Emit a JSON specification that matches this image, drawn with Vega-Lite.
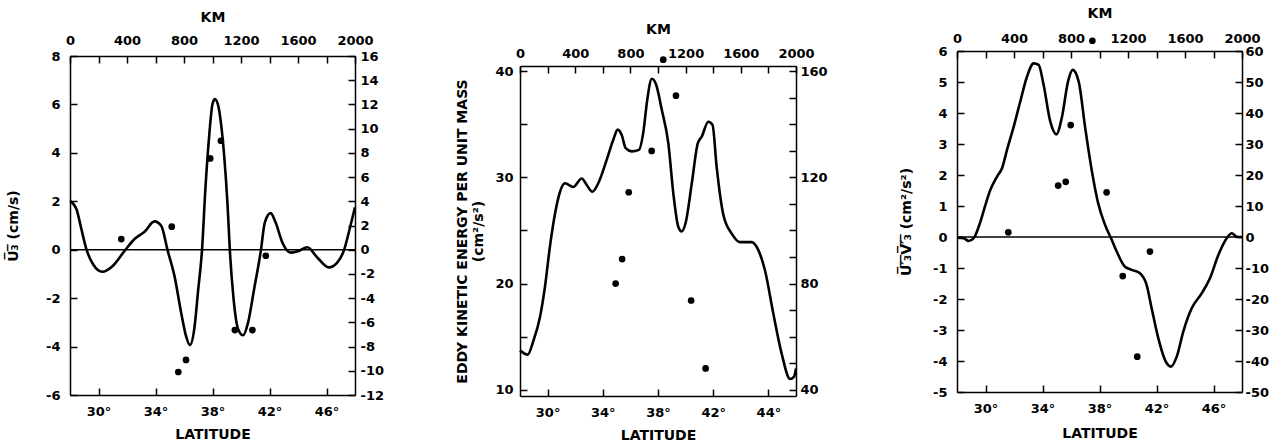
{
  "$schema": "https://vega.github.io/schema/vega-lite/v6.json",
  "background": "white",
  "padding": {"left": 6, "top": 5, "right": 0, "bottom": 0},
  "config": {
    "font": "DejaVu Sans",
    "view": {"stroke": null},
    "axis": {
      "grid": false, "domainColor": "black", "domainWidth": 1.5, "tickColor": "black", "tickWidth": 1.5, "tickSize": -7,
      "labelColor": "black", "labelFont": "DejaVu Sans", "labelFontWeight": "bold", "labelFontSize": 13,
      "labelFlush": false, "labelOverlap": false, "labelBound": false,
      "titleColor": "black", "titleFont": "DejaVu Sans", "titleFontWeight": "bold", "titleFontSize": 14
    }
  },
  "datasets": {
    "c1": [
      {"lat": 28.0, "v": 2.02}, {"lat": 28.45, "v": 1.68}, {"lat": 28.8, "v": 0.85}, {"lat": 29.15, "v": 0.02},
      {"lat": 29.62, "v": -0.6}, {"lat": 30.27, "v": -0.91}, {"lat": 31.0, "v": -0.67}, {"lat": 31.83, "v": -0.05},
      {"lat": 32.53, "v": 0.44}, {"lat": 33.23, "v": 0.74}, {"lat": 33.93, "v": 1.17}, {"lat": 34.4, "v": 0.99},
      {"lat": 34.86, "v": -0.05}, {"lat": 35.33, "v": -1.08}, {"lat": 35.8, "v": -2.6}, {"lat": 36.14, "v": -3.56},
      {"lat": 36.42, "v": -3.94}, {"lat": 36.72, "v": -3.28}, {"lat": 37.0, "v": -1.63}, {"lat": 37.26, "v": -0.05},
      {"lat": 37.5, "v": 2.5}, {"lat": 37.73, "v": 4.43}, {"lat": 38.0, "v": 6.02}, {"lat": 38.17, "v": 6.22},
      {"lat": 38.4, "v": 5.95}, {"lat": 38.6, "v": 5.2}, {"lat": 38.82, "v": 3.88}, {"lat": 39.06, "v": 1.81},
      {"lat": 39.22, "v": -0.05}, {"lat": 39.48, "v": -2.04}, {"lat": 39.8, "v": -3.28}, {"lat": 40.15, "v": -3.53},
      {"lat": 40.5, "v": -3.0}, {"lat": 40.92, "v": -1.63}, {"lat": 41.39, "v": -0.05}, {"lat": 41.67, "v": 1.12},
      {"lat": 42.08, "v": 1.51}, {"lat": 42.43, "v": 1.12}, {"lat": 42.9, "v": 0.3}, {"lat": 43.48, "v": -0.12},
      {"lat": 44.06, "v": -0.05}, {"lat": 44.65, "v": 0.1}, {"lat": 45.35, "v": -0.32}, {"lat": 46.16, "v": -0.73},
      {"lat": 46.75, "v": -0.53}, {"lat": 47.21, "v": -0.05}, {"lat": 47.68, "v": 0.99}, {"lat": 48.0, "v": 1.75}
    ],
    "p1": [
      {"lat": 31.6, "v": 0.44}, {"lat": 35.14, "v": 0.95}, {"lat": 35.6, "v": -5.05}, {"lat": 36.14, "v": -4.55},
      {"lat": 37.84, "v": 3.77}, {"lat": 38.59, "v": 4.5}, {"lat": 39.57, "v": -3.32}, {"lat": 40.8, "v": -3.32},
      {"lat": 41.74, "v": -0.25}
    ],
    "c2": [
      {"lat": 28.0, "v": 13.7}, {"lat": 28.56, "v": 13.3}, {"lat": 28.97, "v": 14.6}, {"lat": 29.45, "v": 16.85},
      {"lat": 29.81, "v": 19.7}, {"lat": 30.17, "v": 23.5}, {"lat": 30.54, "v": 26.6}, {"lat": 30.9, "v": 28.65},
      {"lat": 31.26, "v": 29.45}, {"lat": 31.86, "v": 29.1}, {"lat": 32.47, "v": 29.9}, {"lat": 32.83, "v": 29.3},
      {"lat": 33.24, "v": 28.65}, {"lat": 33.67, "v": 29.45}, {"lat": 34.28, "v": 31.65}, {"lat": 34.76, "v": 33.55},
      {"lat": 35.08, "v": 34.5}, {"lat": 35.37, "v": 34.0}, {"lat": 35.66, "v": 32.75}, {"lat": 36.09, "v": 32.45},
      {"lat": 36.62, "v": 32.6}, {"lat": 36.93, "v": 34.2}, {"lat": 37.22, "v": 37.3}, {"lat": 37.55, "v": 39.3},
      {"lat": 37.85, "v": 38.8}, {"lat": 38.27, "v": 36.4}, {"lat": 38.75, "v": 33.2}, {"lat": 39.11, "v": 28.5},
      {"lat": 39.47, "v": 25.35}, {"lat": 39.72, "v": 24.9}, {"lat": 40.0, "v": 25.7}, {"lat": 40.45, "v": 29.45},
      {"lat": 40.88, "v": 33.2}, {"lat": 41.17, "v": 33.85}, {"lat": 41.65, "v": 35.25}, {"lat": 41.95, "v": 34.95},
      {"lat": 42.25, "v": 31.0}, {"lat": 42.74, "v": 26.45}, {"lat": 43.34, "v": 24.7}, {"lat": 43.94, "v": 23.9},
      {"lat": 44.78, "v": 23.9}, {"lat": 45.27, "v": 23.15}, {"lat": 45.75, "v": 21.25}, {"lat": 46.36, "v": 17.15},
      {"lat": 46.96, "v": 13.4}, {"lat": 47.57, "v": 11.0}, {"lat": 47.85, "v": 11.2}, {"lat": 48.0, "v": 12.0}
    ],
    "p2": [
      {"lat": 34.93, "v": 20.0}, {"lat": 35.4, "v": 22.3}, {"lat": 35.88, "v": 28.6}, {"lat": 37.54, "v": 32.5},
      {"lat": 38.38, "v": 41.1}, {"lat": 39.3, "v": 37.7}, {"lat": 40.4, "v": 18.4}, {"lat": 41.45, "v": 12.0}
    ],
    "c3": [
      {"lat": 28.0, "v": -0.02}, {"lat": 28.47, "v": -0.04}, {"lat": 28.82, "v": -0.13}, {"lat": 29.17, "v": -0.04},
      {"lat": 29.64, "v": 0.49}, {"lat": 29.99, "v": 1.03}, {"lat": 30.34, "v": 1.52}, {"lat": 30.81, "v": 1.95},
      {"lat": 31.16, "v": 2.22}, {"lat": 31.51, "v": 2.81}, {"lat": 31.98, "v": 3.56}, {"lat": 32.44, "v": 4.37},
      {"lat": 32.91, "v": 5.17}, {"lat": 33.38, "v": 5.6}, {"lat": 33.73, "v": 5.55}, {"lat": 34.08, "v": 4.9},
      {"lat": 34.55, "v": 3.72}, {"lat": 34.97, "v": 3.31}, {"lat": 35.37, "v": 3.88}, {"lat": 35.79, "v": 5.01},
      {"lat": 36.12, "v": 5.39}, {"lat": 36.54, "v": 5.01}, {"lat": 37.0, "v": 3.51}, {"lat": 37.47, "v": 2.11},
      {"lat": 37.9, "v": 1.1}, {"lat": 38.39, "v": 0.39}, {"lat": 38.81, "v": -0.04}, {"lat": 39.21, "v": -0.47},
      {"lat": 39.79, "v": -0.96}, {"lat": 40.26, "v": -1.06}, {"lat": 40.84, "v": -1.17}, {"lat": 41.31, "v": -1.55},
      {"lat": 41.66, "v": -2.3}, {"lat": 42.13, "v": -3.27}, {"lat": 42.6, "v": -3.97}, {"lat": 43.02, "v": -4.18},
      {"lat": 43.42, "v": -3.86}, {"lat": 43.88, "v": -3.05}, {"lat": 44.47, "v": -2.3}, {"lat": 45.17, "v": -1.82},
      {"lat": 45.75, "v": -1.33}, {"lat": 46.34, "v": -0.58}, {"lat": 46.93, "v": -0.04}, {"lat": 47.28, "v": 0.12},
      {"lat": 47.63, "v": 0.01}, {"lat": 48.0, "v": 0.0}
    ],
    "p3": [
      {"lat": 31.6, "v": 0.15}, {"lat": 35.1, "v": 1.66}, {"lat": 35.63, "v": 1.78}, {"lat": 35.98, "v": 3.61},
      {"lat": 37.5, "v": 6.33}, {"lat": 38.5, "v": 1.44}, {"lat": 39.63, "v": -1.26}, {"lat": 40.65, "v": -3.86},
      {"lat": 41.54, "v": -0.47}
    ],
    "ref": [{"zero": 0}],
    "blank": [{"k": 1}],
    "a1": [{"km": 0, "r": -12}, {"km": 2000, "r": 16}],
    "a2": [{"km": 0, "r": 40}, {"km": 2000, "r": 160}],
    "a3": [{"km": 0, "r": -50}, {"km": 2000, "r": 60}]
  },
  "concat": [
    {
      "vconcat": [
        {"data": {"name": "blank"}, "mark": {"type": "point", "opacity": 0, "size": 0, "strokeWidth": 0}, "encoding": {}, "width": 10, "height": 5},
        {
          "width": 285, "height": 339,
          "layer": [
            {
              "layer": [
                {
                  "data": {"name": "c1"},
                  "mark": {"type": "line", "interpolate": "monotone", "color": "black", "strokeWidth": 2.6},
                  "encoding": {
                    "x": {"field": "lat", "type": "quantitative", "scale": {"domain": [28, 48], "nice": false, "zero": false},
                      "axis": {"orient": "bottom", "title": "LATITUDE", "values": [30, 32, 34, 36, 38, 40, 42, 44, 46], "labelExpr": "datum.value % 4 == 2 ? datum.value + '°' : ''", "labelOverlap": false, "labelPadding": 17, "titleY": 39, "titleBaseline": "middle"}},
                    "y": {"field": "v", "type": "quantitative", "scale": {"domain": [-6, 8], "nice": false},
                      "axis": {"orient": "left", "title": "U̅₃̅ (cm/s)", "values": [-6, -5, -4, -3, -2, -1, 0, 1, 2, 3, 4, 5, 6, 7, 8], "labelExpr": "datum.value % 2 == 0 ? replace(datum.label, '−', '-') : ''", "labelOverlap": false, "labelPadding": 17, "titleX": -57, "titleBaseline": "middle"}}
                  }
                },
                {
                  "data": {"name": "p1"},
                  "mark": {"type": "circle", "size": 45, "color": "black", "opacity": 1},
                  "encoding": {"x": {"field": "lat", "type": "quantitative"}, "y": {"field": "v", "type": "quantitative"}}
                },
                {
                  "data": {"name": "ref"},
                  "mark": {"type": "rule", "color": "black", "strokeWidth": 1.5},
                  "encoding": {"y": {"field": "zero", "type": "quantitative"}}
                }
              ]
            },
            {
              "data": {"name": "a1"},
              "mark": {"type": "point", "opacity": 0},
              "encoding": {
                "x": {"field": "km", "type": "quantitative", "scale": {"domain": [0, 2000], "nice": false},
                  "axis": {"orient": "top", "title": "KM", "format": "d", "values": [0, 200, 400, 600, 800, 1000, 1200, 1400, 1600, 1800, 2000], "labelExpr": "datum.value % 400 == 0 ? datum.label : ''", "labelOverlap": false, "labelPadding": 16, "titleY": -39, "titleBaseline": "middle"}},
                "y": {"field": "r", "type": "quantitative", "scale": {"domain": [-12, 16], "nice": false},
                  "axis": {"orient": "right", "title": null, "values": [-12, -10, -8, -6, -4, -2, 0, 2, 4, 6, 8, 10, 12, 14, 16], "labelExpr": "replace(datum.label, '−', '-')", "labelOverlap": false, "labelPadding": 12}}
              }
            }
          ],
          "resolve": {"scale": {"x": "independent", "y": "independent"}}
        }
      ],
      "spacing": 0
    },
    {
      "vconcat": [
        {"data": {"name": "blank"}, "mark": {"type": "point", "opacity": 0, "size": 0, "strokeWidth": 0}, "encoding": {}, "width": 10, "height": 17},
        {
          "width": 276, "height": 330,
          "layer": [
            {
              "layer": [
                {
                  "data": {"name": "c2"},
                  "mark": {"type": "line", "interpolate": "monotone", "color": "black", "strokeWidth": 2.6},
                  "encoding": {
                    "x": {"field": "lat", "type": "quantitative", "scale": {"domain": [28, 48], "nice": false, "zero": false},
                      "axis": {"orient": "bottom", "title": "LATITUDE", "values": [30, 32, 34, 36, 38, 40, 42, 44, 46], "labelExpr": "datum.value % 4 == 2 ? (datum.value == 46 ? '44' : datum.value) + '°' : ''", "labelOverlap": false, "labelPadding": 17, "titleY": 39, "titleBaseline": "middle"}},
                    "y": {"field": "v", "type": "quantitative", "scale": {"domain": [9.4, 40.5], "nice": false, "zero": false},
                      "axis": {"orient": "left", "title": ["EDDY KINETIC ENERGY PER UNIT MASS", "(cm²/s²)"], "values": [10, 15, 20, 25, 30, 35, 40], "labelExpr": "datum.value % 10 == 0 ? datum.label : ''", "labelOverlap": false, "labelPadding": 14, "titleX": -58, "titleBaseline": "middle"}}
                  }
                },
                {
                  "data": {"name": "p2"},
                  "mark": {"type": "circle", "size": 45, "color": "black", "opacity": 1},
                  "encoding": {"x": {"field": "lat", "type": "quantitative"}, "y": {"field": "v", "type": "quantitative"}}
                }
              ]
            },
            {
              "data": {"name": "a2"},
              "mark": {"type": "point", "opacity": 0},
              "encoding": {
                "x": {"field": "km", "type": "quantitative", "scale": {"domain": [0, 2000], "nice": false},
                  "axis": {"orient": "top", "title": "KM", "format": "d", "values": [0, 200, 400, 600, 800, 1000, 1200, 1400, 1600, 1800, 2000], "labelExpr": "datum.value % 400 == 0 ? datum.label : ''", "labelOverlap": false, "labelPadding": 13, "titleY": -37, "titleBaseline": "middle"}},
                "y": {"field": "r", "type": "quantitative", "scale": {"domain": [37.6, 162], "nice": false, "zero": false},
                  "axis": {"orient": "right", "title": null, "values": [40, 50, 60, 70, 80, 90, 100, 110, 120, 130, 140, 150, 160], "labelExpr": "datum.value % 40 == 0 ? datum.label : ''", "labelOverlap": false, "labelPadding": 11}}
              }
            }
          ],
          "resolve": {"scale": {"x": "independent", "y": "independent"}}
        }
      ],
      "spacing": 0
    },
    {
      "vconcat": [
        {"data": {"name": "blank"}, "mark": {"type": "point", "opacity": 0, "size": 0, "strokeWidth": 0}, "encoding": {}, "width": 10, "height": 1},
        {
          "width": 285, "height": 341,
          "layer": [
            {
              "layer": [
                {
                  "data": {"name": "c3"},
                  "mark": {"type": "line", "interpolate": "monotone", "color": "black", "strokeWidth": 2.6},
                  "encoding": {
                    "x": {"field": "lat", "type": "quantitative", "scale": {"domain": [28, 48], "nice": false, "zero": false},
                      "axis": {"orient": "bottom", "title": "LATITUDE", "values": [30, 32, 34, 36, 38, 40, 42, 44, 46], "labelExpr": "datum.value % 4 == 2 ? datum.value + '°' : ''", "labelOverlap": false, "labelPadding": 17, "titleY": 41, "titleBaseline": "middle"}},
                    "y": {"field": "v", "type": "quantitative", "scale": {"domain": [-5, 6], "nice": false},
                      "axis": {"orient": "left", "title": "U̅′̅₃̅V̅′̅₃̅ (cm²/s²)", "values": [-5, -4, -3, -2, -1, 0, 1, 2, 3, 4, 5, 6], "labelExpr": "replace(datum.label, '−', '-')", "labelOverlap": false, "labelPadding": 17, "titleX": -51, "titleBaseline": "middle"}}
                  }
                },
                {
                  "data": {"name": "p3"},
                  "mark": {"type": "circle", "size": 45, "color": "black", "opacity": 1},
                  "encoding": {"x": {"field": "lat", "type": "quantitative"},
                    "y": {"field": "v", "type": "quantitative", "axis": {"orient": "left", "title": "U̅′̅₃̅V̅′̅₃̅ (cm²/s²)", "values": [-5, -4, -3, -2, -1, 0, 1, 2, 3, 4, 5, 6], "labelExpr": "replace(datum.label, '−', '-')", "labelOverlap": false, "labelPadding": 17, "titleX": -51, "titleBaseline": "middle"}}}
                },
                {
                  "data": {"name": "ref"},
                  "mark": {"type": "rule", "color": "black", "strokeWidth": 1.5},
                  "encoding": {"y": {"field": "zero", "type": "quantitative", "axis": {"orient": "left", "title": "U̅′̅₃̅V̅′̅₃̅ (cm²/s²)", "values": [-5, -4, -3, -2, -1, 0, 1, 2, 3, 4, 5, 6], "labelExpr": "replace(datum.label, '−', '-')", "labelOverlap": false, "labelPadding": 17, "titleX": -51, "titleBaseline": "middle"}}}
                }
              ]
            },
            {
              "data": {"name": "a3"},
              "mark": {"type": "point", "opacity": 0},
              "encoding": {
                "x": {"field": "km", "type": "quantitative", "scale": {"domain": [0, 2000], "nice": false},
                  "axis": {"orient": "top", "title": "KM", "format": "d", "values": [0, 200, 400, 600, 800, 1000, 1200, 1400, 1600, 1800, 2000], "labelExpr": "datum.value % 400 == 0 ? datum.label : ''", "labelOverlap": false, "labelPadding": 13, "titleY": -38, "titleBaseline": "middle"}},
                "y": {"field": "r", "type": "quantitative", "scale": {"domain": [-50, 60], "nice": false},
                  "axis": {"orient": "right", "title": null, "values": [-50, -40, -30, -20, -10, 0, 10, 20, 30, 40, 50, 60], "labelExpr": "replace(datum.label, '−', '-')", "labelOverlap": false, "labelPadding": 10}}
              }
            }
          ],
          "resolve": {"scale": {"x": "independent", "y": "independent"}}
        }
      ],
      "spacing": 0
    }
  ],
  "columns": 3,
  "align": "none",
  "spacing": 71
}
